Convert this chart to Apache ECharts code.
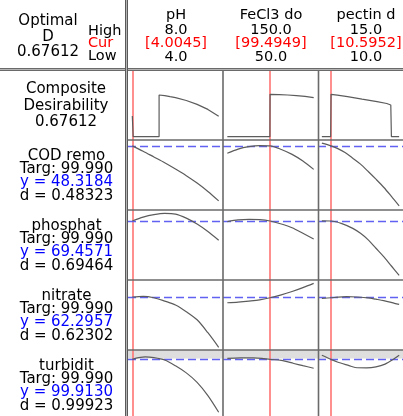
<!DOCTYPE html>
<html>
<head>
<meta charset="utf-8">
<script src="https://cdn.jsdelivr.net/npm/echarts@6/dist/echarts.min.js"></script>
<style>
html, body { margin: 0; padding: 0; background: #fff; }
#chart { width: 403px; height: 416px; }
</style>
</head>
<body>
<div id="chart"></div>
<script>
// Response optimizer: factors, settings and predicted responses
const factorNames = ['pH', 'FeCl3 do', 'pectin d'];
const factorHigh = [8.0, 150.0, 15.0];
const factorLow = [4.0, 50.0, 10.0];
const factorCur = [4.0045, 99.4949, 10.5952];

const compositeD = 0.67612;
const responseNames = ['COD remo', 'phosphat', 'nitrate', 'turbidit'];
const responseTarget = [99.990, 99.990, 99.990, 99.990];
const responsePredicted = [48.3184, 69.4571, 62.2957, 99.9130];
const responseDesirability = [0.48323, 0.69464, 0.62302, 0.99923];

// Composite desirability traces [factor value, D]
const compositePH = [[4.0, 0.33], [4.04, 0], [5.24, 0], [5.24, 0.665], [5.5, 0.655], [5.75, 0.638], [6.0, 0.622], [6.5, 0.578], [7.0, 0.515], [7.5, 0.435], [8.0, 0.325]];
const compositeFeCl3 = [[50, 0], [99.3, 0], [99.4949, 0.676], [110, 0.672], [120, 0.665], [130, 0.655], [140, 0.642], [150, 0.622]];
const compositePectin = [[10, 0], [10.57, 0], [10.5952, 0.676], [11.0, 0.662], [11.66, 0.64], [12.6, 0.60], [13.57, 0.56], [14.2, 0.53], [14.46, 0.506], [14.5, 0], [15, 0]];

// Predicted response traces [factor value, y]
const codPH = [[4.0, 48.33], [4.5, 46.8], [5.0, 45.15], [5.5, 43.5], [6.0, 41.7], [6.5, 39.8], [7.0, 37.7], [7.5, 35.3], [8.0, 32.6]];
const codFeCl3 = [[50, 46.2], [62.5, 47.4], [75, 48.1], [87.5, 48.4], [99.4949, 48.3184], [112.5, 47.3], [125, 45.9], [137.5, 44.0], [150, 41.6]];
const codPectin = [[10, 49.1], [10.5952, 48.3184], [11, 47.6], [11.5, 46.4], [12, 44.8], [12.5, 43.1], [13, 41.0], [13.5, 38.8], [14, 36.5], [14.5, 33.9], [15, 31.2]];

const phosPH = [[4.0, 69.47], [4.5, 70.7], [5.0, 71.5], [5.5, 71.9], [6.0, 71.7], [6.5, 70.4], [7.0, 68.5], [7.5, 66.1], [8.0, 63.3]];
const phosFeCl3 = [[50, 69.24], [62.5, 69.8], [75, 70.0], [87.5, 69.9], [99.4949, 69.4571], [112.5, 68.5], [125, 67.3], [137.5, 65.5], [150, 63.7]];
const phosPectin = [[10, 69.5], [10.5952, 69.4571], [11.25, 68.7], [12, 67.1], [12.5, 65.5], [13, 63.4], [13.5, 60.7], [14, 58.0], [14.5, 55.0], [15, 52.0]];

const nitPH = [[4.0, 62.45], [4.5, 62.6], [5.0, 62.3], [5.5, 61.6], [6.0, 60.8], [6.5, 59.4], [7.0, 57.7], [7.5, 55.0], [8.0, 51.96]];
const nitFeCl3 = [[50, 61.26], [62.5, 61.4], [75, 61.6], [87.5, 61.85], [99.4949, 62.2957], [112.5, 62.9], [125, 63.6], [137.5, 64.4], [150, 65.3]];
const nitPectin = [[10, 62.18], [10.5952, 62.2957], [11, 62.42], [11.6, 62.52], [12.3, 62.45], [13, 62.28], [13.5, 62.0], [14, 61.7], [14.7, 61.14], [15, 60.9]];

const turbPH = [[4.0, 99.92], [4.3, 100.05], [4.6, 100.12], [5.0, 100.06], [5.5, 99.86], [6.0, 99.39], [6.5, 98.81], [7.0, 98.04], [7.5, 96.96], [8.0, 95.60]];
const turbFeCl3 = [[50, 99.99], [65, 100.03], [80, 100.04], [90, 100.0], [99.4949, 99.913], [112.5, 99.83], [127, 99.58], [137.5, 99.40], [150, 99.19]];
const turbPectin = [[10, 100.25], [10.5952, 99.913], [11.0, 99.7], [11.76, 99.40], [12.15, 99.25], [12.9, 99.22], [13.5, 99.3], [14.09, 99.53], [14.67, 99.96], [15, 100.25]];

const traces = [
  [compositePH, compositeFeCl3, compositePectin],
  [codPH, codFeCl3, codPectin],
  [phosPH, phosFeCl3, phosPectin],
  [nitPH, nitFeCl3, nitPectin],
  [turbPH, turbFeCl3, turbPectin]
];

// Layout of the panel table (pixels)
const colX = [128, 223, 318];
const colW = 95;
const rowY = [70, 140, 210, 280, 350];
const rowH = 70;
const rowRange = [[-0.053, 1.064], [30, 50], [50.5, 73], [51.4, 66], [95.29, 100.68]];
const xPad = 0.05;

const FONT = 'DejaVu Sans';
const curveColor = '#5c5c5c';
const curColor = '#ff7474';
const predColor = '#6262f2';

const grids = [], xAxes = [], yAxes = [], series = [];
for (let r = 0; r < 5; r++) {
  for (let c = 0; c < 3; c++) {
    const gi = grids.length;
    const span = factorHigh[c] - factorLow[c];
    grids.push({ left: colX[c], top: rowY[r], width: colW, height: rowH, show: false });
    xAxes.push({ type: 'value', gridIndex: gi, show: false,
      min: factorLow[c] - xPad * span, max: factorHigh[c] + xPad * span });
    yAxes.push({ type: 'value', gridIndex: gi, show: false,
      min: rowRange[r][0], max: rowRange[r][1] });

    const markData = [{ xAxis: factorCur[c], lineStyle: { color: curColor, width: 1.6, type: 'solid' } }];
    if (r > 0) {
      markData.push({ yAxis: responsePredicted[r - 1], lineStyle: { color: predColor, width: 1.4, type: [8, 4] } });
    }
    const s = {
      type: 'line', xAxisIndex: gi, yAxisIndex: gi,
      data: traces[r][c], showSymbol: false, silent: true, animation: false,
      smooth: r > 0 ? 0.3 : false,
      lineStyle: { color: curveColor, width: 1.2 },
      z: 3,
      markLine: { silent: true, symbol: ['none', 'none'], label: { show: false }, animation: false, data: markData, z: 2 }
    };
    if (r === 4) {
      s.markArea = { silent: true, itemStyle: { color: '#dedede' },
        data: [[{ yAxis: responseTarget[3] }, { yAxis: rowRange[4][1] }]] };
    }
    series.push(s);
  }
}

// Text cells and ruling lines
const g = [];
function txt(text, x, y, color, size, align) {
  g.push({ type: 'text', z: 10, style: {
    text: text, x: x, y: y, fill: color || '#000',
    font: (size || 15) + 'px "' + FONT + '"',
    align: align || 'center', verticalAlign: 'middle',
    textAlign: align || 'center', textVerticalAlign: 'middle' } });
}
function ln(x1, y1, x2, y2, color, w) {
  g.push({ type: 'line', z: 20, silent: true, shape: { x1: x1, y1: y1, x2: x2, y2: y2 },
    style: { stroke: color, lineWidth: w } });
}

// header cell
txt('Optimal', 48, 21.5, '#000', 15);
txt('D', 48, 37, '#000', 15);
txt(compositeD.toFixed(5), 48, 52.5, '#000', 15);
txt('High', 88, 31.5, '#000', 14.5, 'left');
txt('Cur', 88, 43.5, '#ff0000', 14.5, 'left');
txt('Low', 88, 56, '#000', 14.5, 'left');
for (let c = 0; c < 3; c++) {
  const cx = colX[c] + colW / 2 + 0.5;
  txt(factorNames[c], cx, 15.5, '#000', 14.5);
  txt(factorHigh[c].toFixed(1), cx, 30.5, '#000', 14.5);
  txt('[' + factorCur[c].toFixed(4) + ']', cx, 43.2, '#ff0000', 14.5);
  txt(factorLow[c].toFixed(1), cx, 57.3, '#000', 14.5);
}
// composite row label
txt('Composite', 66, 89.2, '#000', 15);
txt('Desirability', 66, 105.8, '#000', 15);
txt(compositeD.toFixed(5), 66, 122.5, '#000', 15);
// response labels
for (let i = 0; i < 4; i++) {
  const y0 = rowY[i + 1];
  txt(responseNames[i], 66.5, y0 + 15.7, '#000', 15);
  txt('Targ: ' + responseTarget[i].toFixed(3), 66.5, y0 + 29.3, '#000', 15);
  txt('y = ' + responsePredicted[i].toFixed(4), 66.5, y0 + 42.6, '#0000ff', 15);
  txt('d = ' + responseDesirability[i].toFixed(5), 66.5, y0 + 55.9, '#000', 15);
}

// ruling: double lines under header and beside labels
ln(0, 69.5, 403, 69.5, '#b4b4b4', 3);
ln(0, 68.5, 403, 68.5, '#6a6a6a', 1);
ln(0, 70.5, 403, 70.5, '#6a6a6a', 1);
ln(126.5, 0, 126.5, 416, '#b4b4b4', 3);
ln(125.5, 0, 125.5, 416, '#5a5a5a', 1);
ln(127.5, 0, 127.5, 416, '#5a5a5a', 1);
// panel dividers
ln(223, 71, 223, 416, '#6a6a6a', 1.6);
ln(318.5, 71, 318.5, 416, '#6a6a6a', 1.6);
for (let r = 1; r < 5; r++) {
  ln(128, rowY[r], 403, rowY[r], '#6a6a6a', 1.4);
}

const chart = echarts.init(document.getElementById('chart'), null, { renderer: 'canvas' });
chart.setOption({
  animation: false,
  backgroundColor: '#ffffff',
  grid: grids,
  xAxis: xAxes,
  yAxis: yAxes,
  series: series,
  graphic: g
});
</script>
</body>
</html>
